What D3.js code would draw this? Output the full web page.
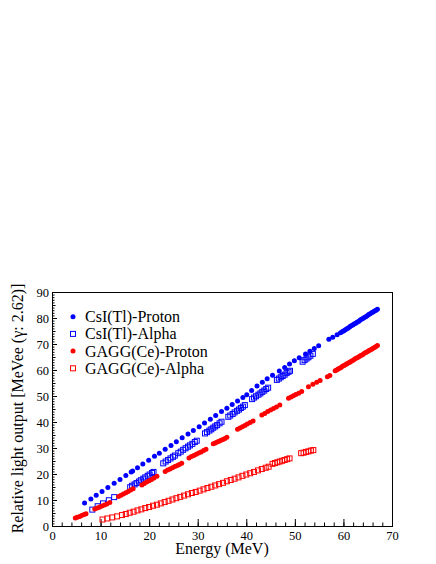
<!DOCTYPE html>
<html>
<head>
<meta charset="utf-8">
<script src="https://cdn.jsdelivr.net/npm/d3@7"></script>
<style>
body{margin:0;background:#fff;}
svg text{font-family:"Liberation Serif","Times New Roman",serif;}
</style>
</head>
<body>
<script>
// CsI(Tl) proton: energy (MeV) and light output (MeVee)
var csiProtonE = [6.7, 8.0, 9.1, 10.3, 11.5, 12.8, 14.0, 15.2, 16.3, 16.6, 17.6, 18.7, 19.9, 21.1, 22.1, 23.3, 24.5, 25.6, 26.8, 28.0,
    29.1, 30.3, 31.4, 32.6, 33.7, 34.9, 36.0, 37.1, 38.2, 39.3, 40.1, 41.1, 42.2, 43.3, 44.3, 45.4, 46.8, 47.9, 48.9, 49.9,
    50.9, 52.2, 53.1, 54.0, 54.9, 57.0, 57.8, 58.7, 59.4, 59.8, 60.1, 60.4, 60.7, 61.0, 61.3, 61.6, 61.9, 62.2, 62.5, 62.8,
    63.1, 63.4, 63.7, 64.0, 64.3, 64.6, 64.9, 65.2, 65.5, 65.8, 66.1, 66.4, 66.7, 67.0];
var csiProtonLY = [8.8, 10.4, 11.8, 13.3, 14.8, 16.4, 17.9, 19.4, 20.8, 21.2, 22.4, 23.8, 25.3, 26.8, 28.0, 29.5, 31.0, 32.4, 33.9, 35.4,
    36.7, 38.2, 39.6, 41.1, 42.5, 44.0, 45.3, 46.7, 48.1, 49.4, 50.5, 52.1, 53.8, 55.3, 56.6, 58.0, 59.6, 61.0, 62.3, 63.6,
    64.7, 66.2, 67.2, 68.3, 69.3, 71.8, 72.6, 73.6, 74.3, 74.8, 75.1, 75.5, 75.9, 76.2, 76.6, 77.0, 77.3, 77.7, 78.0, 78.4,
    78.7, 79.1, 79.5, 79.8, 80.2, 80.5, 80.9, 81.3, 81.6, 82.0, 82.3, 82.7, 83.0, 83.4];

// CsI(Tl) alpha
var csiAlphaE = [8.3, 9.4, 10.5, 11.7, 12.8, 16.1, 16.5, 17.0, 17.4, 17.9, 18.3, 18.8, 19.2, 19.7, 20.1, 20.6, 20.9,
    22.9, 23.4, 23.9, 24.4, 24.9, 25.3, 26.0, 26.5, 27.0, 27.5, 28.0, 28.4, 28.9, 29.4, 29.8,
    31.5, 31.9, 32.4, 32.8, 33.2, 33.6, 34.0, 34.5, 34.9, 36.3, 36.7, 37.2, 37.6, 38.1, 38.5, 38.9, 39.3, 39.7,
    41.2, 41.6, 42.0, 42.5, 42.9, 43.3, 43.7, 44.1, 44.5, 46.3, 46.7, 47.1, 47.5, 47.9, 48.3, 48.7, 49.0,
    51.6, 52.0, 52.4, 52.8, 53.2, 53.7];
var csiAlphaLY = [6.3, 7.6, 8.7, 9.9, 11.1, 14.9, 15.5, 16.0, 16.5, 17.1, 17.6, 18.2, 18.7, 19.3, 19.8, 20.4, 20.8,
    24.1, 24.8, 25.4, 26.0, 26.6, 27.1, 28.0, 28.6, 29.3, 29.9, 30.5, 31.0, 31.6, 32.3, 32.8,
    35.6, 36.1, 36.7, 37.2, 37.8, 38.3, 38.8, 39.5, 40.1, 42.0, 42.5, 43.1, 43.7, 44.3, 44.8, 45.4, 45.9, 46.5,
    48.8, 49.4, 49.9, 50.5, 51.0, 51.6, 52.1, 52.7, 53.2, 56.2, 56.7, 57.2, 57.7, 58.2, 58.8, 59.3, 59.7,
    63.2, 63.8, 64.4, 64.9, 65.5, 66.2];

// GAGG(Ce) proton
var gaggProtonE = [4.8, 5.2, 5.7, 6.1, 6.6, 7.0, 8.8, 9.3, 9.8, 10.3, 10.8, 11.3, 11.9, 13.7, 14.2, 14.7, 15.2, 15.7, 16.2, 16.7,
    18.5, 19.0, 19.5, 20.0, 20.5, 21.0, 21.6, 23.3, 23.8, 24.3, 24.8, 25.3, 25.8, 26.2, 26.7,
    28.2, 28.7, 29.2, 29.7, 30.2, 30.7, 31.2, 31.7, 33.2, 33.6, 34.0, 34.4, 34.8, 35.2, 35.6, 36.0,
    38.2, 38.7, 39.2, 39.7, 40.2, 40.8, 41.4, 43.2, 43.8, 44.4, 45.0, 45.6, 46.2, 46.9,
    48.7, 49.2, 49.7, 50.2, 50.8, 51.4, 52.8, 53.7, 54.5, 55.2, 56.7, 57.2,
    58.3, 58.6, 58.9, 59.2, 59.5, 59.8, 60.1, 60.4, 60.7, 61.0, 61.3, 61.6, 61.9, 62.2, 62.5, 62.8,
    63.1, 63.4, 63.7, 64.0, 64.3, 64.6, 64.9, 65.2, 65.5, 65.8, 66.1, 66.4, 66.7, 67.0];
var gaggProtonLY = [3.1, 3.4, 3.7, 4.0, 4.4, 4.7, 6.5, 6.9, 7.3, 7.7, 8.1, 8.5, 9.0, 11.3, 11.8, 12.3, 12.8, 13.3, 13.8, 14.3,
    15.8, 16.3, 16.9, 17.4, 17.9, 18.5, 19.1, 21.0, 21.5, 21.9, 22.4, 22.9, 23.3, 23.7, 24.1,
    26.2, 26.7, 27.1, 27.6, 28.1, 28.5, 29.0, 29.5, 31.6, 31.9, 32.3, 32.6, 33.0, 33.3, 33.7, 34.1,
    37.2, 37.7, 38.2, 38.7, 39.2, 39.8, 40.4, 42.7, 43.3, 44.0, 44.6, 45.2, 45.8, 46.5,
    49.1, 49.6, 50.1, 50.6, 51.1, 51.7, 53.6, 54.5, 55.3, 56.0, 57.4, 57.9,
    59.7, 60.0, 60.4, 60.7, 61.0, 61.4, 61.7, 62.0, 62.4, 62.7, 63.0, 63.4, 63.7, 64.0, 64.4, 64.7,
    65.0, 65.4, 65.7, 66.0, 66.4, 66.7, 67.0, 67.4, 67.7, 68.0, 68.4, 68.7, 69.0, 69.4];

// GAGG(Ce) alpha
var gaggAlphaE = [10.4, 11.4, 12.4, 13.4, 14.4, 15.2, 16.0, 16.8, 17.6, 18.4, 19.2, 20.0, 20.8, 21.6, 22.4, 23.2, 24.0, 24.8,
    25.6, 26.4, 27.2, 28.0, 28.8, 29.6, 30.4, 31.2, 32.0, 32.8, 33.6, 34.4, 35.2, 36.0, 36.8, 37.6, 38.4, 39.2,
    40.0, 40.8, 41.6, 42.4, 43.2, 44.0, 44.6, 45.4, 45.9, 46.4, 46.9, 47.4, 47.9, 48.4, 48.9,
    51.3, 51.8, 52.3, 52.8, 53.3, 53.8];
var gaggAlphaLY = [2.5, 2.9, 3.3, 3.7, 4.2, 4.6, 5.1, 5.5, 6.0, 6.4, 6.9, 7.3, 7.8, 8.2, 8.7, 9.2, 9.7, 10.2,
    10.7, 11.2, 11.7, 12.2, 12.7, 13.1, 13.6, 14.1, 14.6, 15.1, 15.6, 16.1, 16.6, 17.2, 17.7, 18.2, 18.7, 19.3,
    19.8, 20.3, 20.8, 21.4, 21.9, 22.4, 22.8, 23.9, 24.2, 24.5, 24.8, 25.1, 25.4, 25.7, 26.0,
    28.0, 28.2, 28.5, 28.7, 29.0, 29.2];

var seriesNames = ["CsI(Tl)-Proton", "CsI(Tl)-Alpha", "GAGG(Ce)-Proton", "GAGG(Ce)-Alpha"];
var seriesColors = ["#0000ff", "#0000ff", "#ff0000", "#ff0000"];
var seriesShapes = ["circle", "square", "circle", "square"];
var xTickLabels = [0, 10, 20, 30, 40, 50, 60, 70];
var yTickLabels = [0, 10, 20, 30, 40, 50, 60, 70, 80, 90];

function init(){
    var w = 436;
    var h = 564;
    var left = 52, right = 392, top = 292, bottom = 526;

    var svg = d3.select("body")
        .append("svg")
        .attr("width", w)
        .attr("height", h);

    var x = d3.scaleLinear().domain([0, 70]).range([left, right]);
    var y = d3.scaleLinear().domain([0, 90]).range([bottom, top]);

    //minor ticks first, major ticks on top
    svg.append("g")
        .attr("transform", "translate(0," + bottom + ")")
        .call(d3.axisBottom(x).tickValues(d3.range(0, 71, 2)).tickSize(-3.5).tickFormat(""));
    svg.append("g")
        .attr("transform", "translate(" + left + ",0)")
        .call(d3.axisLeft(y).tickValues(d3.range(0, 91, 1)).tickSize(-2.5).tickFormat(""));
    svg.append("g")
        .attr("transform", "translate(" + left + ",0)")
        .call(d3.axisLeft(y).tickValues(d3.range(5, 90, 10)).tickSize(-3.5).tickFormat(""));

    var xAxis = svg.append("g")
        .attr("transform", "translate(0," + bottom + ")")
        .call(d3.axisBottom(x).tickValues(xTickLabels).tickSize(-7).tickPadding(5));
    var yAxis = svg.append("g")
        .attr("transform", "translate(" + left + ",0)")
        .call(d3.axisLeft(y).tickValues(yTickLabels).tickSize(-5).tickPadding(3));

    svg.selectAll(".domain").remove();
    svg.selectAll(".tick line").attr("stroke", "#000");
    svg.selectAll(".tick text")
        .attr("fill", "#000")
        .style("font-family", "'Liberation Serif', serif")
        .style("font-size", "12.5px");

    //frame
    svg.append("rect")
        .attr("x", left + 0.5)
        .attr("y", top + 0.5)
        .attr("width", right - left)
        .attr("height", bottom - top)
        .attr("fill", "none")
        .attr("stroke", "#000")
        .attr("stroke-width", 1);

    var allE = [csiProtonE, csiAlphaE, gaggProtonE, gaggAlphaE];
    var allLY = [csiProtonLY, csiAlphaLY, gaggProtonLY, gaggAlphaLY];

    function drawMarkers(g, shape, color, pts){
        if (shape == "circle"){
            g.selectAll("circle")
                .data(pts)
                .enter()
                .append("circle")
                .attr("cx", function(d){ return d[0]; })
                .attr("cy", function(d){ return d[1]; })
                .attr("r", 2.5)
                .attr("fill", color);
        } else {
            g.selectAll("rect")
                .data(pts)
                .enter()
                .append("rect")
                .attr("x", function(d){ return d[0] - 2.5; })
                .attr("y", function(d){ return d[1] - 2.5; })
                .attr("width", 5)
                .attr("height", 5)
                .attr("fill", "none")
                .attr("stroke", color)
                .attr("stroke-width", 1);
        }
    }

    for (var i = 0; i < seriesNames.length; i++){
        var pts = allE[i].map(function(e, j){ return [x(e), y(allLY[i][j])]; });
        drawMarkers(svg.append("g"), seriesShapes[i], seriesColors[i], pts);
    }

    //legend
    var legend = svg.append("g");
    for (var k = 0; k < seriesNames.length; k++){
        var ly = 316.7 + k * 17.2;
        drawMarkers(legend.append("g"), seriesShapes[k], seriesColors[k], [[73, ly]]);
        legend.append("text")
            .attr("x", 85)
            .attr("y", ly + 5.5)
            .style("font-size", "16px")
            .attr("fill", "#000")
            .text(seriesNames[k]);
    }

    //axis titles
    svg.append("text")
        .attr("x", (left + right) / 2)
        .attr("y", 554)
        .attr("text-anchor", "middle")
        .style("font-size", "16px")
        .text("Energy (MeV)");
    svg.append("text")
        .attr("transform", "translate(22.5," + 408.5 + ") rotate(-90)")
        .attr("text-anchor", "middle")
        .style("font-size", "16px")
        .text("Relative light output [MeVee (\u03b3: 2.62)]");
}

window.onload = init;
</script>
</body>
</html>
